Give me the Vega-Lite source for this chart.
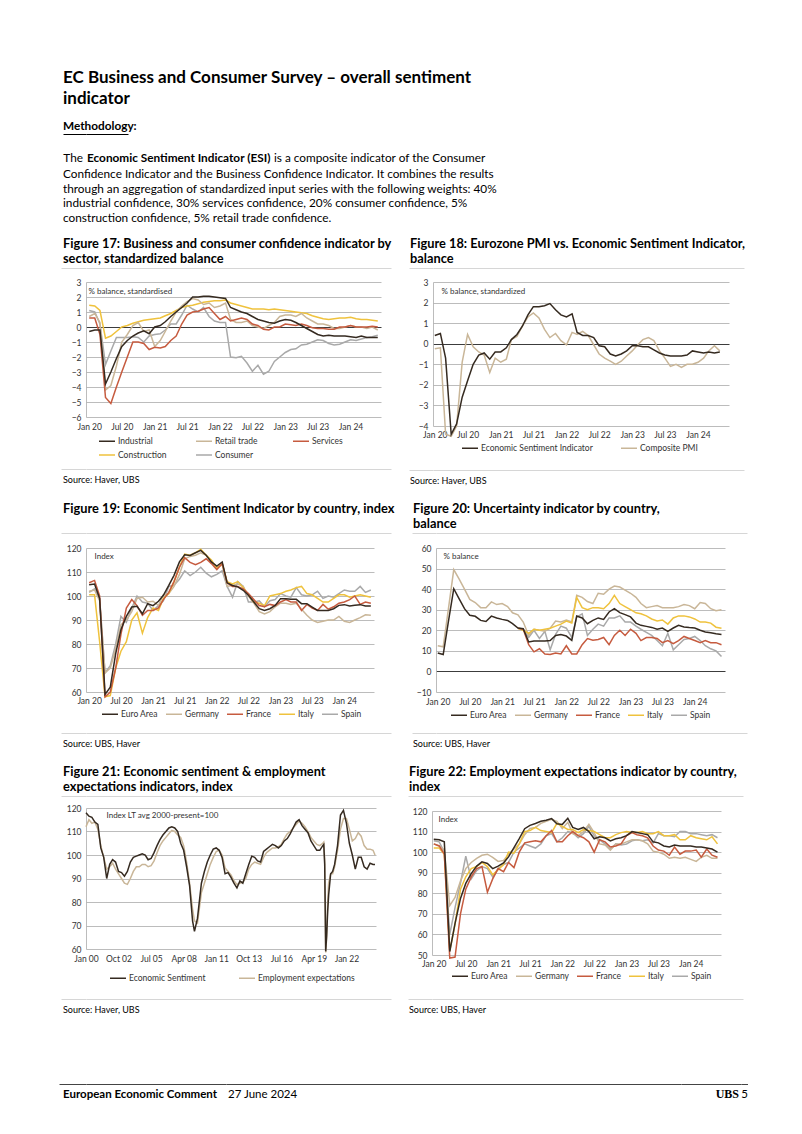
{
"$schema": "https://vega.github.io/schema/vega-lite/v6.json",
"padding": {"left": 58, "top": 69, "right": 0, "bottom": 0},
"background": "white",
"spacing": 0,
"resolve": {"scale": {"color": "independent"}, "legend": {"color": "independent"}},
"config": {
  "font": "Lato",
  "view": {"stroke": null},
  "title": {"font": "Lato", "anchor": "start", "frame": "group", "color": "#000000", "fontWeight": "bold", "fontSize": 12.8, "lineHeight": 15, "offset": 2, "dx": -23},
  "axis": {"labelFont": "Lato", "labelFontSize": 8.5, "labelColor": "#333333", "ticks": false, "domain": false, "grid": false, "titleFont": "Lato", "titleFontSize": 8, "titleFontWeight": "normal", "titleColor": "#333333", "labelFlush": false, "labelOverlap": false},
  "axisY": {"grid": true, "gridColor": {"condition": {"test": "datum.value === 0", "value": "#3c3c3c"}, "value": "#ababab"}, "gridWidth": {"condition": {"test": "datum.value === 0", "value": 1.2}, "value": 0.8}, "domain": true, "domainColor": "#ababab", "domainWidth": 0.8, "labelPadding": 5, "titleAngle": 0, "titleAlign": "left", "titleBaseline": "middle"},
  "axisX": {"labelPadding": 4},
  "legend": {"direction": "horizontal", "symbolType": "stroke", "symbolSize": 256, "symbolStrokeWidth": 2, "labelFont": "Lato", "labelFontSize": 8.5, "labelColor": "#333333", "labelOffset": 2, "rowPadding": -2},
  "line": {"strokeWidth": 1.5, "clip": true}
},
"vconcat": [
  {"width": 445, "height": 12, "data": {"values": []}, "mark": "point",
   "title": {"text": ["EC Business and Consumer Survey \u2013 overall sentiment", "indicator"], "fontSize": 17, "lineHeight": 21, "offset": 0}},
  {"width": 42, "height": 1, "data": {"values": []}, "mark": "point",
   "encoding": {"y": {"datum": 1, "type": "quantitative", "scale": {"domain": [0, 1]}, "axis": {"values": [1], "title": null, "labels": false, "domain": false, "ticks": true, "tickSize": 23, "tickColor": "#000000", "tickWidth": 1, "grid": true, "gridColor": "#000000", "gridWidth": 1, "minExtent": 23, "maxExtent": 23}}},
   "title": {"text": "Methodology:", "fontSize": 11.8, "offset": 1}},
  {"width": 10, "height": 18, "data": {"values": []}, "mark": "point"},
  {"spacing": 0, "hconcat": [
    {"width": 1, "height": 3, "data": {"values": []}, "mark": "point",
     "title": {"text": "The", "anchor": "end", "fontWeight": "normal", "fontSize": 11.8, "offset": 0, "dx": -4}},
    {"width": 1, "height": 3, "data": {"values": []}, "mark": "point",
     "title": {"text": "Economic Sentiment Indicator (ESI)", "fontSize": 11.8, "offset": 0, "dx": 0}},
    {"width": 1, "height": 3, "data": {"values": []}, "mark": "point",
     "title": {"text": "is a composite indicator of the Consumer", "fontWeight": "normal", "fontSize": 11.8, "offset": 0, "dx": 3}}
  ]},
  {"width": 445, "height": 11.5, "data": {"values": []}, "mark": "point",
   "title": {"text": ["Confidence Indicator and the Business Confidence Indicator. It combines the results", "through an aggregation of standardized input series with the following weights: 40%", "industrial confidence, 30% services confidence, 20% consumer confidence, 5%", "construction confidence, 5% retail trade confidence."], "fontWeight": "normal", "fontSize": 11.8, "lineHeight": 14.75, "offset": 0}},
  {"spacing": 16, "resolve": {"scale": {"color": "independent"}, "legend": {"color": "independent"}}, "vconcat": [
    {"spacing": 16, "resolve": {"scale": {"color": "independent"}, "legend": {"color": "independent"}}, "hconcat": [
      {"title": {"text": ["Figure 17: Business and consumer confidence indicator by", "sector, standardized balance"]}, "spacing": 9, "vconcat": [
        {"width": 305, "height": 1, "data": {"values": []}, "mark": "point",
         "encoding": {"y": {"datum": 1, "type": "quantitative", "scale": {"domain": [0, 1]}, "axis": {"values": [1], "title": null, "labels": false, "domain": false, "ticks": true, "tickSize": 25, "tickColor": "#d6d6d6", "tickWidth": 1, "grid": true, "gridColor": "#d6d6d6", "gridWidth": 1, "minExtent": 25, "maxExtent": 25}}}},
        {"spacing": 37, "vconcat": [
          {"width": 295, "height": 135,
           "data": {"values": [
{"d":"2020-01","Industrial":-0.3,"Retail trade":0.7,"Services":0.6,"Construction":1.45,"Consumer":1.1},
{"d":"2020-02","Industrial":-0.2,"Retail trade":0.9,"Services":0.6,"Construction":1.4,"Consumer":1.0},
{"d":"2020-03","Industrial":-0.2,"Retail trade":0.3,"Services":-0.5,"Construction":1.1,"Consumer":0.2},
{"d":"2020-04","Industrial":-3.8,"Retail trade":-4.2,"Services":-4.7,"Construction":-0.75,"Consumer":-2.5},
{"d":"2020-05","Industrial":-3.0,"Retail trade":-3.9,"Services":-5.1,"Construction":-0.6,"Consumer":-1.6},
{"d":"2020-06","Industrial":-2.1,"Retail trade":-2.6,"Services":-4.0,"Construction":-0.3,"Consumer":-0.7},
{"d":"2020-07","Industrial":-1.3,"Retail trade":-1.0,"Services":-3.0,"Construction":0.0,"Consumer":-0.7},
{"d":"2020-08","Industrial":-0.9,"Retail trade":-0.5,"Services":-2.0,"Construction":0.1,"Consumer":-0.7},
{"d":"2020-09","Industrial":-0.6,"Retail trade":0.1,"Services":-1.0,"Construction":0.25,"Consumer":-0.65},
{"d":"2020-10","Industrial":-0.4,"Retail trade":0.3,"Services":-1.0,"Construction":0.35,"Consumer":-0.7},
{"d":"2020-11","Industrial":-0.25,"Retail trade":-0.3,"Services":-1.1,"Construction":0.45,"Consumer":-1.0},
{"d":"2020-12","Industrial":-0.45,"Retail trade":-0.2,"Services":-1.5,"Construction":0.5,"Consumer":-0.6},
{"d":"2021-01","Industrial":0.0,"Retail trade":-1.3,"Services":-1.35,"Construction":0.55,"Consumer":-0.5},
{"d":"2021-02","Industrial":0.1,"Retail trade":-0.9,"Services":-1.4,"Construction":0.6,"Consumer":-0.45},
{"d":"2021-03","Industrial":0.35,"Retail trade":-0.3,"Services":-1.3,"Construction":0.75,"Consumer":-0.2},
{"d":"2021-04","Industrial":0.7,"Retail trade":0.4,"Services":-0.9,"Construction":0.9,"Consumer":0.2},
{"d":"2021-05","Industrial":1.0,"Retail trade":1.0,"Services":-0.6,"Construction":1.1,"Consumer":0.2},
{"d":"2021-06","Industrial":1.3,"Retail trade":1.4,"Services":0.2,"Construction":1.3,"Consumer":0.8},
{"d":"2021-07","Industrial":1.6,"Retail trade":1.7,"Services":0.8,"Construction":1.4,"Consumer":1.45},
{"d":"2021-08","Industrial":2.0,"Retail trade":1.9,"Services":1.0,"Construction":1.45,"Consumer":1.2},
{"d":"2021-09","Industrial":2.0,"Retail trade":1.8,"Services":1.05,"Construction":1.55,"Consumer":1.0},
{"d":"2021-10","Industrial":2.05,"Retail trade":1.5,"Services":1.2,"Construction":1.65,"Consumer":1.3},
{"d":"2021-11","Industrial":2.05,"Retail trade":1.6,"Services":1.3,"Construction":1.7,"Consumer":0.7},
{"d":"2021-12","Industrial":2.0,"Retail trade":1.3,"Services":0.9,"Construction":1.75,"Consumer":0.4},
{"d":"2022-01","Industrial":1.95,"Retail trade":1.4,"Services":0.5,"Construction":1.75,"Consumer":0.3},
{"d":"2022-02","Industrial":1.9,"Retail trade":1.6,"Services":0.7,"Construction":1.8,"Consumer":0.3},
{"d":"2022-03","Industrial":1.3,"Retail trade":0.5,"Services":0.4,"Construction":1.6,"Consumer":-2.0},
{"d":"2022-04","Industrial":1.15,"Retail trade":0.3,"Services":0.5,"Construction":1.5,"Consumer":-2.05},
{"d":"2022-05","Industrial":1.0,"Retail trade":0.3,"Services":0.6,"Construction":1.4,"Consumer":-1.95},
{"d":"2022-06","Industrial":0.9,"Retail trade":0.4,"Services":0.5,"Construction":1.3,"Consumer":-2.4},
{"d":"2022-07","Industrial":0.7,"Retail trade":0.1,"Services":0.2,"Construction":1.2,"Consumer":-2.95},
{"d":"2022-08","Industrial":0.5,"Retail trade":0.0,"Services":0.1,"Construction":1.2,"Consumer":-2.55},
{"d":"2022-09","Industrial":0.4,"Retail trade":-0.1,"Services":-0.15,"Construction":1.2,"Consumer":-3.15},
{"d":"2022-10","Industrial":0.3,"Retail trade":0.1,"Services":-0.2,"Construction":1.15,"Consumer":-2.95},
{"d":"2022-11","Industrial":0.25,"Retail trade":0.3,"Services":0.0,"Construction":1.2,"Consumer":-2.3},
{"d":"2022-12","Industrial":0.4,"Retail trade":0.7,"Services":0.0,"Construction":1.15,"Consumer":-2.0},
{"d":"2023-01","Industrial":0.5,"Retail trade":0.8,"Services":0.2,"Construction":1.1,"Consumer":-1.7},
{"d":"2023-02","Industrial":0.45,"Retail trade":0.8,"Services":0.15,"Construction":1.05,"Consumer":-1.5},
{"d":"2023-03","Industrial":0.3,"Retail trade":0.7,"Services":0.1,"Construction":1.0,"Consumer":-1.45},
{"d":"2023-04","Industrial":0.1,"Retail trade":0.9,"Services":0.2,"Construction":0.95,"Consumer":-1.2},
{"d":"2023-05","Industrial":-0.1,"Retail trade":0.6,"Services":0.1,"Construction":0.9,"Consumer":-1.15},
{"d":"2023-06","Industrial":-0.3,"Retail trade":0.4,"Services":-0.05,"Construction":0.75,"Consumer":-1.0},
{"d":"2023-07","Industrial":-0.5,"Retail trade":0.2,"Services":-0.1,"Construction":0.65,"Consumer":-0.85},
{"d":"2023-08","Industrial":-0.6,"Retail trade":0.2,"Services":-0.1,"Construction":0.55,"Consumer":-0.9},
{"d":"2023-09","Industrial":-0.55,"Retail trade":0.1,"Services":-0.15,"Construction":0.5,"Consumer":-1.1},
{"d":"2023-10","Industrial":-0.6,"Retail trade":-0.1,"Services":-0.15,"Construction":0.55,"Consumer":-1.2},
{"d":"2023-11","Industrial":-0.6,"Retail trade":-0.1,"Services":0.0,"Construction":0.6,"Consumer":-1.15},
{"d":"2023-12","Industrial":-0.6,"Retail trade":0.0,"Services":0.0,"Construction":0.6,"Consumer":-1.0},
{"d":"2024-01","Industrial":-0.65,"Retail trade":0.1,"Services":0.1,"Construction":0.65,"Consumer":-0.85},
{"d":"2024-02","Industrial":-0.7,"Retail trade":0.0,"Services":0.0,"Construction":0.55,"Consumer":-0.9},
{"d":"2024-03","Industrial":-0.6,"Retail trade":0.0,"Services":0.0,"Construction":0.5,"Consumer":-0.8},
{"d":"2024-04","Industrial":-0.7,"Retail trade":-0.1,"Services":0.0,"Construction":0.5,"Consumer":-0.7},
{"d":"2024-05","Industrial":-0.7,"Retail trade":0.0,"Services":0.05,"Construction":0.45,"Consumer":-0.65},
{"d":"2024-06","Industrial":-0.7,"Retail trade":-0.2,"Services":0.0,"Construction":0.4,"Consumer":-0.55}
           ]},
           "transform": [{"fold": ["Consumer", "Construction", "Retail trade", "Services", "Industrial"], "as": ["series", "value"]}],
           "mark": {"type": "line"},
           "encoding": {
             "x": {"field": "d", "type": "temporal", "title": null,
                   "scale": {"type": "utc", "domain": [{"year":2019,"month":12,"date":14,"utc":true},{"year":2024,"month":6,"date":19,"utc":true}]},
                   "axis": {"format": "%b %y", "labelPadding": 5, "values": [{"year":2020,"month":1,"date":1,"utc":true},{"year":2020,"month":7,"date":1,"utc":true},{"year":2021,"month":1,"date":1,"utc":true},{"year":2021,"month":7,"date":1,"utc":true},{"year":2022,"month":1,"date":1,"utc":true},{"year":2022,"month":7,"date":1,"utc":true},{"year":2023,"month":1,"date":1,"utc":true},{"year":2023,"month":7,"date":1,"utc":true},{"year":2024,"month":1,"date":1,"utc":true}]}},
             "y": {"field": "value", "type": "quantitative", "title": "% balance, standardised",
                   "scale": {"domain": [-6, 3], "nice": false, "zero": false},
                   "axis": {"values": [-6,-5,-4,-3,-2,-1,0,1,2,3], "minExtent": 25, "maxExtent": 25, "titleX": 2, "titleY": 9}},
             "color": {"field": "series", "type": "nominal",
                   "scale": {"domain": ["Industrial", "Retail trade", "Services", "Construction", "Consumer"], "range": ["#352a20", "#c9b698", "#c65b3f", "#efc23d", "#a9a9a9"]},
                   "legend": {"title": null, "orient": "none", "legendX": 12, "legendY": 164, "columns": 3, "gridAlign": "all", "columnPadding": 26}}
           }},
          {"width": 305, "height": 1, "data": {"values": []}, "mark": "point",
           "encoding": {"y": {"datum": 1, "type": "quantitative", "scale": {"domain": [0, 1]}, "axis": {"values": [1], "title": null, "labels": false, "domain": false, "ticks": true, "tickSize": 25, "tickColor": "#d6d6d6", "tickWidth": 1, "grid": true, "gridColor": "#d6d6d6", "gridWidth": 1, "minExtent": 25, "maxExtent": 25}}},
           "title": {"text": "Source: Haver, UBS", "orient": "bottom", "fontWeight": "normal", "fontSize": 9, "offset": 6}}
        ]}
      ]},
      {"title": {"text": ["Figure 18: Eurozone PMI vs. Economic Sentiment Indicator,", "balance"]}, "spacing": 9, "vconcat": [
        {"width": 311, "height": 1, "data": {"values": []}, "mark": "point",
         "encoding": {"y": {"datum": 1, "type": "quantitative", "scale": {"domain": [0, 1]}, "axis": {"values": [1], "title": null, "labels": false, "domain": false, "ticks": true, "tickSize": 24, "tickColor": "#d6d6d6", "tickWidth": 1, "grid": true, "gridColor": "#d6d6d6", "gridWidth": 1, "minExtent": 24, "maxExtent": 24}}}},
        {"spacing": 29, "vconcat": [
          {"width": 296, "height": 144,
           "data": {"values": [
{"d":"2020-01","Economic Sentiment Indicator":0.4,"Composite PMI":-0.25},
{"d":"2020-02","Economic Sentiment Indicator":0.5,"Composite PMI":-0.2},
{"d":"2020-03","Economic Sentiment Indicator":-0.7,"Composite PMI":-4.4},
{"d":"2020-04","Economic Sentiment Indicator":-4.4,"Composite PMI":-4.5},
{"d":"2020-05","Economic Sentiment Indicator":-3.9,"Composite PMI":-4.0},
{"d":"2020-06","Economic Sentiment Indicator":-2.6,"Composite PMI":-0.9},
{"d":"2020-07","Economic Sentiment Indicator":-1.8,"Composite PMI":0.45},
{"d":"2020-08","Economic Sentiment Indicator":-1.0,"Composite PMI":-0.15},
{"d":"2020-09","Economic Sentiment Indicator":-0.55,"Composite PMI":-0.4},
{"d":"2020-10","Economic Sentiment Indicator":-0.45,"Composite PMI":-0.55},
{"d":"2020-11","Economic Sentiment Indicator":-0.75,"Composite PMI":-1.4},
{"d":"2020-12","Economic Sentiment Indicator":-0.4,"Composite PMI":-0.7},
{"d":"2021-01","Economic Sentiment Indicator":-0.4,"Composite PMI":-0.9},
{"d":"2021-02","Economic Sentiment Indicator":-0.2,"Composite PMI":-0.75},
{"d":"2021-03","Economic Sentiment Indicator":0.2,"Composite PMI":0.2},
{"d":"2021-04","Economic Sentiment Indicator":0.45,"Composite PMI":0.35},
{"d":"2021-05","Economic Sentiment Indicator":0.85,"Composite PMI":0.85},
{"d":"2021-06","Economic Sentiment Indicator":1.4,"Composite PMI":1.3},
{"d":"2021-07","Economic Sentiment Indicator":1.8,"Composite PMI":1.5},
{"d":"2021-08","Economic Sentiment Indicator":1.8,"Composite PMI":1.25},
{"d":"2021-09","Economic Sentiment Indicator":1.85,"Composite PMI":0.7},
{"d":"2021-10","Economic Sentiment Indicator":1.95,"Composite PMI":0.3},
{"d":"2021-11","Economic Sentiment Indicator":1.65,"Composite PMI":0.5},
{"d":"2021-12","Economic Sentiment Indicator":1.4,"Composite PMI":0.15},
{"d":"2022-01","Economic Sentiment Indicator":1.3,"Composite PMI":-0.05},
{"d":"2022-02","Economic Sentiment Indicator":1.45,"Composite PMI":0.55},
{"d":"2022-03","Economic Sentiment Indicator":0.55,"Composite PMI":0.45},
{"d":"2022-04","Economic Sentiment Indicator":0.4,"Composite PMI":0.6},
{"d":"2022-05","Economic Sentiment Indicator":0.4,"Composite PMI":0.4},
{"d":"2022-06","Economic Sentiment Indicator":0.3,"Composite PMI":-0.05},
{"d":"2022-07","Economic Sentiment Indicator":-0.1,"Composite PMI":-0.5},
{"d":"2022-08","Economic Sentiment Indicator":-0.15,"Composite PMI":-0.7},
{"d":"2022-09","Economic Sentiment Indicator":-0.5,"Composite PMI":-0.85},
{"d":"2022-10","Economic Sentiment Indicator":-0.6,"Composite PMI":-1.0},
{"d":"2022-11","Economic Sentiment Indicator":-0.5,"Composite PMI":-0.85},
{"d":"2022-12","Economic Sentiment Indicator":-0.35,"Composite PMI":-0.6},
{"d":"2023-01","Economic Sentiment Indicator":-0.1,"Composite PMI":-0.35},
{"d":"2023-02","Economic Sentiment Indicator":-0.1,"Composite PMI":-0.05},
{"d":"2023-03","Economic Sentiment Indicator":-0.15,"Composite PMI":0.2},
{"d":"2023-04","Economic Sentiment Indicator":-0.15,"Composite PMI":0.3},
{"d":"2023-05","Economic Sentiment Indicator":-0.3,"Composite PMI":0.15},
{"d":"2023-06","Economic Sentiment Indicator":-0.45,"Composite PMI":-0.35},
{"d":"2023-07","Economic Sentiment Indicator":-0.55,"Composite PMI":-0.7},
{"d":"2023-08","Economic Sentiment Indicator":-0.6,"Composite PMI":-1.1},
{"d":"2023-09","Economic Sentiment Indicator":-0.6,"Composite PMI":-1.0},
{"d":"2023-10","Economic Sentiment Indicator":-0.6,"Composite PMI":-1.15},
{"d":"2023-11","Economic Sentiment Indicator":-0.55,"Composite PMI":-1.0},
{"d":"2023-12","Economic Sentiment Indicator":-0.35,"Composite PMI":-1.0},
{"d":"2024-01","Economic Sentiment Indicator":-0.4,"Composite PMI":-0.9},
{"d":"2024-02","Economic Sentiment Indicator":-0.45,"Composite PMI":-0.7},
{"d":"2024-03","Economic Sentiment Indicator":-0.4,"Composite PMI":-0.35},
{"d":"2024-04","Economic Sentiment Indicator":-0.45,"Composite PMI":-0.1},
{"d":"2024-05","Economic Sentiment Indicator":-0.4,"Composite PMI":-0.35}
           ]},
           "transform": [{"fold": ["Composite PMI", "Economic Sentiment Indicator"], "as": ["series", "value"]}],
           "mark": {"type": "line"},
           "encoding": {
             "x": {"field": "d", "type": "temporal", "title": null,
                   "scale": {"type": "utc", "domain": [{"year":2019,"month":12,"date":22,"utc":true},{"year":2024,"month":6,"date":21,"utc":true}]},
                   "axis": {"format": "%b %y", "labelPadding": 4, "values": [{"year":2020,"month":1,"date":1,"utc":true},{"year":2020,"month":7,"date":1,"utc":true},{"year":2021,"month":1,"date":1,"utc":true},{"year":2021,"month":7,"date":1,"utc":true},{"year":2022,"month":1,"date":1,"utc":true},{"year":2022,"month":7,"date":1,"utc":true},{"year":2023,"month":1,"date":1,"utc":true},{"year":2023,"month":7,"date":1,"utc":true},{"year":2024,"month":1,"date":1,"utc":true}]}},
             "y": {"field": "value", "type": "quantitative", "title": "% balance, standardized",
                   "scale": {"domain": [-4, 3], "nice": false, "zero": false},
                   "axis": {"values": [-4,-3,-2,-1,0,1,2,3], "minExtent": 24, "maxExtent": 24, "titleX": 8, "titleY": 9}},
             "color": {"field": "series", "type": "nominal",
                   "scale": {"domain": ["Economic Sentiment Indicator", "Composite PMI"], "range": ["#352a20", "#c9b698"]},
                   "legend": {"title": null, "orient": "none", "legendX": 28, "legendY": 171, "columns": 2, "columnPadding": 25}}
           }},
          {"width": 311, "height": 1, "data": {"values": []}, "mark": "point",
           "encoding": {"y": {"datum": 1, "type": "quantitative", "scale": {"domain": [0, 1]}, "axis": {"values": [1], "title": null, "labels": false, "domain": false, "ticks": true, "tickSize": 24, "tickColor": "#d6d6d6", "tickWidth": 1, "grid": true, "gridColor": "#d6d6d6", "gridWidth": 1, "minExtent": 24, "maxExtent": 24}}},
           "title": {"text": "Source: Haver, UBS", "orient": "bottom", "fontWeight": "normal", "fontSize": 9, "offset": 6}}
        ]}
      ]}
    ]},
    {"spacing": 16, "resolve": {"scale": {"color": "independent"}, "legend": {"color": "independent"}}, "hconcat": [
      {"title": {"text": ["Figure 19: Economic Sentiment Indicator by country, index", " "]}, "spacing": 10, "vconcat": [
        {"width": 305, "height": 1, "data": {"values": []}, "mark": "point",
         "encoding": {"y": {"datum": 1, "type": "quantitative", "scale": {"domain": [0, 1]}, "axis": {"values": [1], "title": null, "labels": false, "domain": false, "ticks": true, "tickSize": 25, "tickColor": "#d6d6d6", "tickWidth": 1, "grid": true, "gridColor": "#d6d6d6", "gridWidth": 1, "minExtent": 25, "maxExtent": 25}}}},
        {"spacing": 27, "vconcat": [
          {"width": 288, "height": 144,
           "data": {"values": [
{"d":"2020-01","Euro Area":104.7,"Germany":102,"France":105.5,"Italy":100.5,"Spain":101.5},
{"d":"2020-02","Euro Area":105,"Germany":102.5,"France":106.5,"Italy":100.5,"Spain":103},
{"d":"2020-03","Euro Area":99,"Germany":98,"France":100,"Italy":81,"Spain":99},
{"d":"2020-04","Euro Area":59,"Germany":68,"France":58,"Italy":58,"Spain":68},
{"d":"2020-05","Euro Area":62,"Germany":70,"France":60,"Italy":58.5,"Spain":71},
{"d":"2020-06","Euro Area":76,"Germany":78,"France":70,"Italy":70,"Spain":80},
{"d":"2020-07","Euro Area":86,"Germany":88,"France":84,"Italy":77,"Spain":91.5},
{"d":"2020-08","Euro Area":91.5,"Germany":90,"France":95,"Italy":81,"Spain":89},
{"d":"2020-09","Euro Area":95.4,"Germany":93.5,"France":98.5,"Italy":90,"Spain":95},
{"d":"2020-10","Euro Area":95.7,"Germany":99,"France":96,"Italy":93,"Spain":100},
{"d":"2020-11","Euro Area":92.6,"Germany":99.5,"France":92,"Italy":84.5,"Spain":97.5},
{"d":"2020-12","Euro Area":96.8,"Germany":97.5,"France":94,"Italy":91,"Spain":97},
{"d":"2021-01","Euro Area":96,"Germany":97.8,"France":94,"Italy":95,"Spain":94},
{"d":"2021-02","Euro Area":97.8,"Germany":96,"France":95,"Italy":94,"Spain":96},
{"d":"2021-03","Euro Area":100.3,"Germany":100.5,"France":98.5,"Italy":99,"Spain":98},
{"d":"2021-04","Euro Area":104.4,"Germany":101,"France":101.5,"Italy":101,"Spain":104},
{"d":"2021-05","Euro Area":108.6,"Germany":104,"France":106,"Italy":106,"Spain":104.5},
{"d":"2021-06","Euro Area":114.2,"Germany":109,"France":112,"Italy":112,"Spain":107},
{"d":"2021-07","Euro Area":117.2,"Germany":115.5,"France":116,"Italy":117.5,"Spain":110.5},
{"d":"2021-08","Euro Area":116.9,"Germany":116.5,"France":114,"Italy":117,"Spain":108.5},
{"d":"2021-09","Euro Area":118,"Germany":117,"France":113,"Italy":118,"Spain":110},
{"d":"2021-10","Euro Area":119,"Germany":118,"France":114,"Italy":119.5,"Spain":112},
{"d":"2021-11","Euro Area":117,"Germany":117,"France":115.5,"Italy":117,"Spain":109.5},
{"d":"2021-12","Euro Area":114.2,"Germany":114,"France":113.5,"Italy":115,"Spain":108},
{"d":"2022-01","Euro Area":112.5,"Germany":112,"France":111,"Italy":111.5,"Spain":109},
{"d":"2022-02","Euro Area":114.2,"Germany":113,"France":113.5,"Italy":113.5,"Spain":110.5},
{"d":"2022-03","Euro Area":105.5,"Germany":104,"France":105.5,"Italy":106,"Spain":104},
{"d":"2022-04","Euro Area":104.4,"Germany":104.5,"France":104,"Italy":105,"Spain":99.5},
{"d":"2022-05","Euro Area":103.8,"Germany":105,"France":104,"Italy":106,"Spain":106},
{"d":"2022-06","Euro Area":102.4,"Germany":104,"France":103,"Italy":103.5,"Spain":104},
{"d":"2022-07","Euro Area":100.3,"Germany":100,"France":101,"Italy":100.5,"Spain":97.5},
{"d":"2022-08","Euro Area":97.5,"Germany":97,"France":98.5,"Italy":97.5,"Spain":97.5},
{"d":"2022-09","Euro Area":94.7,"Germany":93.5,"France":96,"Italy":97,"Spain":98},
{"d":"2022-10","Euro Area":94,"Germany":92.5,"France":95.5,"Italy":96,"Spain":95.5},
{"d":"2022-11","Euro Area":94.7,"Germany":93.5,"France":96.5,"Italy":100,"Spain":98},
{"d":"2022-12","Euro Area":96.1,"Germany":95.5,"France":96,"Italy":100.5,"Spain":98.5},
{"d":"2023-01","Euro Area":98.9,"Germany":97,"France":97.5,"Italy":101,"Spain":101},
{"d":"2023-02","Euro Area":98.9,"Germany":97,"France":98.5,"Italy":102,"Spain":100},
{"d":"2023-03","Euro Area":98.6,"Germany":96.5,"France":97.5,"Italy":102.5,"Spain":99.5},
{"d":"2023-04","Euro Area":98.6,"Germany":97,"France":97.5,"Italy":103.5,"Spain":103.5},
{"d":"2023-05","Euro Area":96.8,"Germany":94.5,"France":94,"Italy":104,"Spain":100.5},
{"d":"2023-06","Euro Area":96.8,"Germany":92,"France":96.5,"Italy":101,"Spain":100},
{"d":"2023-07","Euro Area":95.4,"Germany":90,"France":95,"Italy":100.5,"Spain":100.5},
{"d":"2023-08","Euro Area":94,"Germany":89,"France":94,"Italy":99,"Spain":102},
{"d":"2023-09","Euro Area":94,"Germany":89.5,"France":96.5,"Italy":97.5,"Spain":99},
{"d":"2023-10","Euro Area":94,"Germany":90,"France":94.5,"Italy":97.5,"Spain":100},
{"d":"2023-11","Euro Area":94.7,"Germany":90,"France":95.5,"Italy":99,"Spain":99.5},
{"d":"2023-12","Euro Area":96.1,"Germany":91.5,"France":97,"Italy":100.5,"Spain":101},
{"d":"2024-01","Euro Area":96.4,"Germany":89.5,"France":97.5,"Italy":100.5,"Spain":102.5},
{"d":"2024-02","Euro Area":95.8,"Germany":89,"France":98.5,"Italy":99.5,"Spain":102},
{"d":"2024-03","Euro Area":96.1,"Germany":90,"France":100,"Italy":100,"Spain":102},
{"d":"2024-04","Euro Area":96.4,"Germany":91,"France":96.5,"Italy":100.5,"Spain":104},
{"d":"2024-05","Euro Area":95.8,"Germany":92.2,"France":97.5,"Italy":100,"Spain":101.5},
{"d":"2024-06","Euro Area":95.8,"Germany":92,"France":97,"Italy":99.5,"Spain":102.5}
           ]},
           "transform": [{"fold": ["Spain", "Germany", "Italy", "France", "Euro Area"], "as": ["series", "value"]}],
           "mark": {"type": "line"},
           "encoding": {
             "x": {"field": "d", "type": "temporal", "title": null,
                   "scale": {"type": "utc", "domain": [{"year":2019,"month":12,"date":14,"utc":true},{"year":2024,"month":6,"date":19,"utc":true}]},
                   "axis": {"format": "%b %y", "labelPadding": 4, "values": [{"year":2020,"month":1,"date":1,"utc":true},{"year":2020,"month":7,"date":1,"utc":true},{"year":2021,"month":1,"date":1,"utc":true},{"year":2021,"month":7,"date":1,"utc":true},{"year":2022,"month":1,"date":1,"utc":true},{"year":2022,"month":7,"date":1,"utc":true},{"year":2023,"month":1,"date":1,"utc":true},{"year":2023,"month":7,"date":1,"utc":true},{"year":2024,"month":1,"date":1,"utc":true}]}},
             "y": {"field": "value", "type": "quantitative", "title": "Index",
                   "scale": {"domain": [60, 120], "nice": false, "zero": false},
                   "axis": {"values": [60,70,80,90,100,110,120], "minExtent": 25, "maxExtent": 25, "titleX": 8, "titleY": 8}},
             "color": {"field": "series", "type": "nominal",
                   "scale": {"domain": ["Euro Area", "Germany", "France", "Italy", "Spain"], "range": ["#352a20", "#c9b698", "#c65b3f", "#efc23d", "#a9a9a9"]},
                   "legend": {"title": null, "orient": "none", "legendX": 15, "legendY": 172, "columns": 5, "columnPadding": 5}}
           }},
          {"width": 305, "height": 1, "data": {"values": []}, "mark": "point",
           "encoding": {"y": {"datum": 1, "type": "quantitative", "scale": {"domain": [0, 1]}, "axis": {"values": [1], "title": null, "labels": false, "domain": false, "ticks": true, "tickSize": 25, "tickColor": "#d6d6d6", "tickWidth": 1, "grid": true, "gridColor": "#d6d6d6", "gridWidth": 1, "minExtent": 25, "maxExtent": 25}}},
           "title": {"text": "Source: UBS, Haver", "orient": "bottom", "fontWeight": "normal", "fontSize": 9, "offset": 6}}
        ]}
      ]},
      {"title": {"text": ["Figure 20: Uncertainty indicator by country,", "balance"]}, "spacing": 10, "vconcat": [
        {"width": 311, "height": 1, "data": {"values": []}, "mark": "point",
         "encoding": {"y": {"datum": 1, "type": "quantitative", "scale": {"domain": [0, 1]}, "axis": {"values": [1], "title": null, "labels": false, "domain": false, "ticks": true, "tickSize": 24, "tickColor": "#d6d6d6", "tickWidth": 1, "grid": true, "gridColor": "#d6d6d6", "gridWidth": 1, "minExtent": 24, "maxExtent": 24}}}},
        {"spacing": 26, "vconcat": [
          {"width": 289, "height": 144,
           "data": {"values": [
{"d":"2020-01","Euro Area":9,"Germany":12.5},
{"d":"2020-02","Euro Area":8.2,"Germany":12},
{"d":"2020-03","Euro Area":24,"Germany":30},
{"d":"2020-04","Euro Area":40.2,"Germany":49.5},
{"d":"2020-05","Euro Area":35.4,"Germany":45},
{"d":"2020-06","Euro Area":30.5,"Germany":40},
{"d":"2020-07","Euro Area":27.3,"Germany":35},
{"d":"2020-08","Euro Area":26.8,"Germany":33.5},
{"d":"2020-09","Euro Area":24.8,"Germany":31},
{"d":"2020-10","Euro Area":24.3,"Germany":31},
{"d":"2020-11","Euro Area":26.9,"Germany":33.8},
{"d":"2020-12","Euro Area":26,"Germany":32.5},
{"d":"2021-01","Euro Area":25.3,"Germany":33},
{"d":"2021-02","Euro Area":24.8,"Germany":31.5},
{"d":"2021-03","Euro Area":23.2,"Germany":28.5},
{"d":"2021-04","Euro Area":21.1,"Germany":27.5,"France":21,"Italy":21,"Spain":21},
{"d":"2021-05","Euro Area":20.8,"Germany":24,"France":20.5,"Italy":20,"Spain":20.5},
{"d":"2021-06","Euro Area":14.3,"Germany":17.5,"France":13,"Italy":18.5,"Spain":16.5},
{"d":"2021-07","Euro Area":14.8,"Germany":20.5,"France":9.5,"Italy":20.5,"Spain":20},
{"d":"2021-08","Euro Area":14.8,"Germany":20,"France":11,"Italy":20,"Spain":16},
{"d":"2021-09","Euro Area":14.8,"Germany":19.5,"France":8.5,"Italy":20.5,"Spain":19.5},
{"d":"2021-10","Euro Area":15,"Germany":21,"France":8.2,"Italy":21,"Spain":10.5},
{"d":"2021-11","Euro Area":17.5,"Germany":24.5,"France":9,"Italy":22,"Spain":18},
{"d":"2021-12","Euro Area":17.9,"Germany":24,"France":8.5,"Italy":23,"Spain":22},
{"d":"2022-01","Euro Area":17.2,"Germany":25,"France":12.5,"Italy":24.5,"Spain":21},
{"d":"2022-02","Euro Area":15.1,"Germany":24,"France":8.5,"Italy":23.5,"Spain":16.5},
{"d":"2022-03","Euro Area":26.9,"Germany":37,"France":8.5,"Italy":36,"Spain":26.5},
{"d":"2022-04","Euro Area":26,"Germany":36,"France":13,"Italy":31,"Spain":28},
{"d":"2022-05","Euro Area":23.2,"Germany":34,"France":16,"Italy":30,"Spain":17.5},
{"d":"2022-06","Euro Area":24.8,"Germany":33,"France":15.2,"Italy":31,"Spain":20.5},
{"d":"2022-07","Euro Area":26,"Germany":38,"France":15.5,"Italy":31,"Spain":23},
{"d":"2022-08","Euro Area":25.3,"Germany":37.5,"France":16.5,"Italy":30.5,"Spain":22},
{"d":"2022-09","Euro Area":28.9,"Germany":40,"France":13,"Italy":33,"Spain":26},
{"d":"2022-10","Euro Area":30.5,"Germany":41.5,"France":17.5,"Italy":37,"Spain":26},
{"d":"2022-11","Euro Area":28.6,"Germany":41,"France":20,"Italy":33,"Spain":27},
{"d":"2022-12","Euro Area":27.6,"Germany":39.5,"France":17.5,"Italy":31.5,"Spain":24},
{"d":"2023-01","Euro Area":26.5,"Germany":38,"France":20.5,"Italy":30,"Spain":24},
{"d":"2023-02","Euro Area":23.5,"Germany":36,"France":18.5,"Italy":28.5,"Spain":22},
{"d":"2023-03","Euro Area":22.4,"Germany":33,"France":15,"Italy":28,"Spain":20.5},
{"d":"2023-04","Euro Area":21.9,"Germany":31,"France":16.5,"Italy":27,"Spain":19},
{"d":"2023-05","Euro Area":21.4,"Germany":31.5,"France":16.5,"Italy":25.5,"Spain":17.5},
{"d":"2023-06","Euro Area":20.5,"Germany":32,"France":16,"Italy":24.5,"Spain":15},
{"d":"2023-07","Euro Area":21.1,"Germany":31,"France":14,"Italy":25,"Spain":12.5},
{"d":"2023-08","Euro Area":19.5,"Germany":31,"France":15,"Italy":23,"Spain":18.5},
{"d":"2023-09","Euro Area":21.1,"Germany":31,"France":13.5,"Italy":26,"Spain":10.5},
{"d":"2023-10","Euro Area":22.4,"Germany":31.5,"France":15,"Italy":27,"Spain":13},
{"d":"2023-11","Euro Area":21.6,"Germany":32.5,"France":17,"Italy":27,"Spain":15.5},
{"d":"2023-12","Euro Area":21.3,"Germany":32,"France":16,"Italy":26.5,"Spain":16},
{"d":"2024-01","Euro Area":21.1,"Germany":30.5,"France":15,"Italy":25.5,"Spain":17},
{"d":"2024-02","Euro Area":20,"Germany":33.5,"France":14,"Italy":24,"Spain":15},
{"d":"2024-03","Euro Area":19.2,"Germany":33,"France":15,"Italy":24,"Spain":12.5},
{"d":"2024-04","Euro Area":18.8,"Germany":30.5,"France":14,"Italy":23.5,"Spain":11},
{"d":"2024-05","Euro Area":18.3,"Germany":29.5,"France":14,"Italy":21.5,"Spain":10},
{"d":"2024-06","Euro Area":17.9,"Germany":30,"France":13,"Italy":21,"Spain":7.3}
           ]},
           "transform": [{"fold": ["Spain", "Germany", "Italy", "France", "Euro Area"], "as": ["series", "value"]}],
           "mark": {"type": "line"},
           "encoding": {
             "x": {"field": "d", "type": "temporal", "title": null,
                   "scale": {"type": "utc", "domain": [{"year":2019,"month":12,"date":22,"utc":true},{"year":2024,"month":6,"date":21,"utc":true}]},
                   "axis": {"format": "%b %y", "labelPadding": 5, "values": [{"year":2020,"month":1,"date":1,"utc":true},{"year":2020,"month":7,"date":1,"utc":true},{"year":2021,"month":1,"date":1,"utc":true},{"year":2021,"month":7,"date":1,"utc":true},{"year":2022,"month":1,"date":1,"utc":true},{"year":2022,"month":7,"date":1,"utc":true},{"year":2023,"month":1,"date":1,"utc":true},{"year":2023,"month":7,"date":1,"utc":true},{"year":2024,"month":1,"date":1,"utc":true}]}},
             "y": {"field": "value", "type": "quantitative", "title": "% balance",
                   "scale": {"domain": [-10, 60], "nice": false, "zero": false},
                   "axis": {"values": [-10,0,10,20,30,40,50,60], "minExtent": 24, "maxExtent": 24, "titleX": 7, "titleY": 8}},
             "color": {"field": "series", "type": "nominal",
                   "scale": {"domain": ["Euro Area", "Germany", "France", "Italy", "Spain"], "range": ["#352a20", "#c9b698", "#c65b3f", "#efc23d", "#a9a9a9"]},
                   "legend": {"title": null, "orient": "none", "legendX": 14, "legendY": 173, "columns": 5, "columnPadding": 5}}
           }},
          {"width": 311, "height": 1, "data": {"values": []}, "mark": "point",
           "encoding": {"y": {"datum": 1, "type": "quantitative", "scale": {"domain": [0, 1]}, "axis": {"values": [1], "title": null, "labels": false, "domain": false, "ticks": true, "tickSize": 24, "tickColor": "#d6d6d6", "tickWidth": 1, "grid": true, "gridColor": "#d6d6d6", "gridWidth": 1, "minExtent": 24, "maxExtent": 24}}},
           "title": {"text": "Source: UBS, Haver", "orient": "bottom", "fontWeight": "normal", "fontSize": 9, "offset": 6}}
        ]}
      ]}
    ]},
    {"spacing": 16, "resolve": {"scale": {"color": "independent"}, "legend": {"color": "independent"}}, "hconcat": [
      {"title": {"text": ["Figure 21: Economic sentiment & employment", "expectations indicators, index"]}, "spacing": 7, "vconcat": [
        {"width": 305, "height": 1, "data": {"values": []}, "mark": "point",
         "encoding": {"y": {"datum": 1, "type": "quantitative", "scale": {"domain": [0, 1]}, "axis": {"values": [1], "title": null, "labels": false, "domain": false, "ticks": true, "tickSize": 25, "tickColor": "#d6d6d6", "tickWidth": 1, "grid": true, "gridColor": "#d6d6d6", "gridWidth": 1, "minExtent": 25, "maxExtent": 25}}}},
        {"spacing": 35, "vconcat": [
          {"width": 290, "height": 141,
           "data": {"values": [
{"d":"2000-01","Economic Sentiment":118,"Employment expectations":112},
{"d":"2000-04","Economic Sentiment":116.5,"Employment expectations":115},
{"d":"2000-07","Economic Sentiment":116,"Employment expectations":113.5},
{"d":"2000-10","Economic Sentiment":114,"Employment expectations":114},
{"d":"2001-01","Economic Sentiment":113,"Employment expectations":111},
{"d":"2001-04","Economic Sentiment":103,"Employment expectations":104},
{"d":"2001-07","Economic Sentiment":99,"Employment expectations":99},
{"d":"2001-10","Economic Sentiment":90,"Employment expectations":94},
{"d":"2002-01","Economic Sentiment":96,"Employment expectations":95},
{"d":"2002-04","Economic Sentiment":98,"Employment expectations":96.5},
{"d":"2002-07","Economic Sentiment":97,"Employment expectations":94},
{"d":"2002-10","Economic Sentiment":93,"Employment expectations":92},
{"d":"2003-01","Economic Sentiment":92.5,"Employment expectations":90},
{"d":"2003-04","Economic Sentiment":91,"Employment expectations":88},
{"d":"2003-07","Economic Sentiment":93,"Employment expectations":87.5},
{"d":"2003-10","Economic Sentiment":97,"Employment expectations":90},
{"d":"2004-01","Economic Sentiment":99,"Employment expectations":93},
{"d":"2004-04","Economic Sentiment":99.5,"Employment expectations":95},
{"d":"2004-07","Economic Sentiment":100,"Employment expectations":95},
{"d":"2004-10","Economic Sentiment":100.5,"Employment expectations":96},
{"d":"2005-01","Economic Sentiment":100,"Employment expectations":96},
{"d":"2005-04","Economic Sentiment":98,"Employment expectations":95},
{"d":"2005-07","Economic Sentiment":98.5,"Employment expectations":95.5},
{"d":"2005-10","Economic Sentiment":101,"Employment expectations":97.5},
{"d":"2006-01","Economic Sentiment":104,"Employment expectations":101},
{"d":"2006-04","Economic Sentiment":106.5,"Employment expectations":104},
{"d":"2006-07","Economic Sentiment":108.5,"Employment expectations":106},
{"d":"2006-10","Economic Sentiment":110,"Employment expectations":107.5},
{"d":"2007-01","Economic Sentiment":111.5,"Employment expectations":109},
{"d":"2007-04","Economic Sentiment":112,"Employment expectations":110.5},
{"d":"2007-07","Economic Sentiment":111.5,"Employment expectations":110},
{"d":"2007-10","Economic Sentiment":110,"Employment expectations":108.5},
{"d":"2008-01","Economic Sentiment":105,"Employment expectations":107.5},
{"d":"2008-04","Economic Sentiment":102,"Employment expectations":104},
{"d":"2008-07","Economic Sentiment":95,"Employment expectations":97},
{"d":"2008-10","Economic Sentiment":87,"Employment expectations":88},
{"d":"2009-01","Economic Sentiment":72,"Employment expectations":77},
{"d":"2009-03","Economic Sentiment":67.5,"Employment expectations":72},
{"d":"2009-06","Economic Sentiment":73,"Employment expectations":71},
{"d":"2009-10","Economic Sentiment":88,"Employment expectations":84},
{"d":"2010-01","Economic Sentiment":93,"Employment expectations":88},
{"d":"2010-04","Economic Sentiment":97,"Employment expectations":92},
{"d":"2010-07","Economic Sentiment":100,"Employment expectations":96},
{"d":"2010-10","Economic Sentiment":102.5,"Employment expectations":99},
{"d":"2011-01","Economic Sentiment":103,"Employment expectations":101.5},
{"d":"2011-04","Economic Sentiment":102,"Employment expectations":102},
{"d":"2011-07","Economic Sentiment":99,"Employment expectations":100},
{"d":"2011-10","Economic Sentiment":92,"Employment expectations":94.5},
{"d":"2012-01","Economic Sentiment":92.5,"Employment expectations":93},
{"d":"2012-04","Economic Sentiment":90.5,"Employment expectations":91.5},
{"d":"2012-07","Economic Sentiment":88,"Employment expectations":89},
{"d":"2012-10","Economic Sentiment":86,"Employment expectations":87.5},
{"d":"2013-01","Economic Sentiment":89,"Employment expectations":88},
{"d":"2013-04","Economic Sentiment":88,"Employment expectations":88.5},
{"d":"2013-07","Economic Sentiment":92,"Employment expectations":90},
{"d":"2013-10","Economic Sentiment":96,"Employment expectations":94},
{"d":"2014-01","Economic Sentiment":99.5,"Employment expectations":96},
{"d":"2014-04","Economic Sentiment":99,"Employment expectations":97},
{"d":"2014-07","Economic Sentiment":97.5,"Employment expectations":96.5},
{"d":"2014-10","Economic Sentiment":97,"Employment expectations":96},
{"d":"2015-01","Economic Sentiment":101.5,"Employment expectations":99},
{"d":"2015-04","Economic Sentiment":102.5,"Employment expectations":101},
{"d":"2015-07","Economic Sentiment":103.5,"Employment expectations":102},
{"d":"2015-10","Economic Sentiment":104.5,"Employment expectations":103},
{"d":"2016-01","Economic Sentiment":104,"Employment expectations":103},
{"d":"2016-04","Economic Sentiment":103,"Employment expectations":103.5},
{"d":"2016-07","Economic Sentiment":104,"Employment expectations":104.5},
{"d":"2016-10","Economic Sentiment":106,"Employment expectations":107},
{"d":"2017-01","Economic Sentiment":107,"Employment expectations":109},
{"d":"2017-04","Economic Sentiment":109,"Employment expectations":110},
{"d":"2017-07","Economic Sentiment":111.5,"Employment expectations":111.5},
{"d":"2017-10","Economic Sentiment":114,"Employment expectations":113},
{"d":"2018-01","Economic Sentiment":115,"Employment expectations":114.5},
{"d":"2018-04","Economic Sentiment":112.5,"Employment expectations":113.5},
{"d":"2018-07","Economic Sentiment":111,"Employment expectations":112},
{"d":"2018-10","Economic Sentiment":109.5,"Employment expectations":110},
{"d":"2019-01","Economic Sentiment":106,"Employment expectations":107.5},
{"d":"2019-04","Economic Sentiment":104,"Employment expectations":106},
{"d":"2019-07","Economic Sentiment":102,"Employment expectations":104.5},
{"d":"2019-10","Economic Sentiment":102,"Employment expectations":104},
{"d":"2020-01","Economic Sentiment":104,"Employment expectations":105},
{"d":"2020-02","Economic Sentiment":104.5,"Employment expectations":105.5},
{"d":"2020-03","Economic Sentiment":96,"Employment expectations":98},
{"d":"2020-04","Economic Sentiment":59,"Employment expectations":58.5},
{"d":"2020-05","Economic Sentiment":66,"Employment expectations":65},
{"d":"2020-06","Economic Sentiment":76,"Employment expectations":80},
{"d":"2020-07","Economic Sentiment":83,"Employment expectations":88},
{"d":"2020-09","Economic Sentiment":92,"Employment expectations":92},
{"d":"2020-11","Economic Sentiment":93,"Employment expectations":92},
{"d":"2021-01","Economic Sentiment":96,"Employment expectations":95},
{"d":"2021-04","Economic Sentiment":104,"Employment expectations":102},
{"d":"2021-07","Economic Sentiment":117,"Employment expectations":111},
{"d":"2021-10","Economic Sentiment":119,"Employment expectations":115.5},
{"d":"2022-01","Economic Sentiment":113.5,"Employment expectations":115.5},
{"d":"2022-04","Economic Sentiment":105,"Employment expectations":111},
{"d":"2022-07","Economic Sentiment":100,"Employment expectations":106},
{"d":"2022-10","Economic Sentiment":94,"Employment expectations":107},
{"d":"2023-01","Economic Sentiment":99,"Employment expectations":109.5},
{"d":"2023-04","Economic Sentiment":99,"Employment expectations":108},
{"d":"2023-07","Economic Sentiment":95,"Employment expectations":104},
{"d":"2023-10","Economic Sentiment":94,"Employment expectations":102.5},
{"d":"2024-01","Economic Sentiment":96.5,"Employment expectations":102.5},
{"d":"2024-04","Economic Sentiment":96,"Employment expectations":102},
{"d":"2024-06","Economic Sentiment":96,"Employment expectations":100}
           ]},
           "transform": [{"fold": ["Employment expectations", "Economic Sentiment"], "as": ["series", "value"]}],
           "mark": {"type": "line"},
           "encoding": {
             "x": {"field": "d", "type": "temporal", "title": null,
                   "scale": {"type": "utc", "domain": [{"year":2000,"month":1,"date":1,"utc":true},{"year":2024,"month":7,"date":1,"utc":true}]},
                   "axis": {"format": "%b %y", "labelPadding": 5, "values": [{"year":2000,"month":1,"date":1,"utc":true},{"year":2002,"month":10,"date":1,"utc":true},{"year":2005,"month":7,"date":1,"utc":true},{"year":2008,"month":4,"date":1,"utc":true},{"year":2011,"month":1,"date":1,"utc":true},{"year":2013,"month":10,"date":1,"utc":true},{"year":2016,"month":7,"date":1,"utc":true},{"year":2019,"month":4,"date":1,"utc":true},{"year":2022,"month":1,"date":1,"utc":true}]}},
             "y": {"field": "value", "type": "quantitative", "title": "Index LT avg 2000-present=100",
                   "scale": {"domain": [60, 120], "nice": false, "zero": false},
                   "axis": {"values": [60,70,80,90,100,110,120], "minExtent": 27, "maxExtent": 27, "titleX": 20, "titleY": 7}},
             "color": {"field": "series", "type": "nominal",
                   "scale": {"domain": ["Economic Sentiment", "Employment expectations"], "range": ["#352a20", "#c9b698"]},
                   "legend": {"title": null, "orient": "none", "legendX": 23, "legendY": 173, "columns": 2, "columnPadding": 30}}
           }},
          {"width": 305, "height": 1, "data": {"values": []}, "mark": "point",
           "encoding": {"y": {"datum": 1, "type": "quantitative", "scale": {"domain": [0, 1]}, "axis": {"values": [1], "title": null, "labels": false, "domain": false, "ticks": true, "tickSize": 25, "tickColor": "#d6d6d6", "tickWidth": 1, "grid": true, "gridColor": "#d6d6d6", "gridWidth": 1, "minExtent": 25, "maxExtent": 25}}},
           "title": {"text": "Source: Haver, UBS", "orient": "bottom", "fontWeight": "normal", "fontSize": 9, "offset": 6}}
        ]}
      ]},
      {"title": {"text": ["Figure 22: Employment expectations indicator by country,", "index"]}, "spacing": 10, "vconcat": [
        {"width": 311, "height": 1, "data": {"values": []}, "mark": "point",
         "encoding": {"y": {"datum": 1, "type": "quantitative", "scale": {"domain": [0, 1]}, "axis": {"values": [1], "title": null, "labels": false, "domain": false, "ticks": true, "tickSize": 24, "tickColor": "#d6d6d6", "tickWidth": 1, "grid": true, "gridColor": "#d6d6d6", "gridWidth": 1, "minExtent": 24, "maxExtent": 24}}}},
        {"spacing": 30, "vconcat": [
          {"width": 289, "height": 144,
           "data": {"values": [
{"d":"2020-01","Euro Area":106.3,"Germany":104,"France":104,"Italy":102,"Spain":105.5},
{"d":"2020-02","Euro Area":106,"Germany":103,"France":103,"Italy":102,"Spain":105},
{"d":"2020-03","Euro Area":105,"Germany":101,"France":99,"Italy":99,"Spain":100},
{"d":"2020-04","Euro Area":51.7,"Germany":74,"France":48.5,"Italy":52,"Spain":60},
{"d":"2020-05","Euro Area":65.4,"Germany":78,"France":49,"Italy":65,"Spain":73},
{"d":"2020-06","Euro Area":77.5,"Germany":86,"France":70,"Italy":82,"Spain":85},
{"d":"2020-07","Euro Area":84.8,"Germany":92,"France":82,"Italy":88,"Spain":98},
{"d":"2020-08","Euro Area":89.6,"Germany":95,"France":88,"Italy":92,"Spain":87},
{"d":"2020-09","Euro Area":93.2,"Germany":97,"France":92,"Italy":93,"Spain":91},
{"d":"2020-10","Euro Area":95.3,"Germany":98.5,"France":93,"Italy":95,"Spain":93},
{"d":"2020-11","Euro Area":94.5,"Germany":99,"France":80.5,"Italy":93,"Spain":92},
{"d":"2020-12","Euro Area":92,"Germany":97.5,"France":87,"Italy":89,"Spain":88},
{"d":"2021-01","Euro Area":93.2,"Germany":95.5,"France":92,"Italy":91.5,"Spain":92},
{"d":"2021-02","Euro Area":94.8,"Germany":96,"France":90.5,"Italy":94,"Spain":94},
{"d":"2021-03","Euro Area":97.7,"Germany":99,"France":95,"Italy":100,"Spain":95},
{"d":"2021-04","Euro Area":102.2,"Germany":101.5,"France":92.5,"Italy":99.5,"Spain":100},
{"d":"2021-05","Euro Area":106.6,"Germany":104,"France":100,"Italy":104,"Spain":102},
{"d":"2021-06","Euro Area":111.4,"Germany":108.5,"France":104.5,"Italy":110,"Spain":104},
{"d":"2021-07","Euro Area":113,"Germany":111.5,"France":105,"Italy":110.5,"Spain":103},
{"d":"2021-08","Euro Area":113.9,"Germany":112,"France":105.5,"Italy":112,"Spain":102},
{"d":"2021-09","Euro Area":115,"Germany":114,"France":105,"Italy":110.5,"Spain":104},
{"d":"2021-10","Euro Area":115.5,"Germany":115,"France":108,"Italy":110,"Spain":108},
{"d":"2021-11","Euro Area":116.3,"Germany":116,"France":110.5,"Italy":109.5,"Spain":109},
{"d":"2021-12","Euro Area":113.8,"Germany":115,"France":105,"Italy":114,"Spain":105},
{"d":"2022-01","Euro Area":113.5,"Germany":111.5,"France":105,"Italy":112.5,"Spain":107},
{"d":"2022-02","Euro Area":116.5,"Germany":114.5,"France":108,"Italy":111,"Spain":110},
{"d":"2022-03","Euro Area":112,"Germany":109,"France":110,"Italy":111,"Spain":109.5},
{"d":"2022-04","Euro Area":111,"Germany":108,"France":108,"Italy":109.5,"Spain":107},
{"d":"2022-05","Euro Area":112,"Germany":110,"France":107,"Italy":111,"Spain":109},
{"d":"2022-06","Euro Area":110,"Germany":113.5,"France":105,"Italy":110.5,"Spain":112.5},
{"d":"2022-07","Euro Area":106.5,"Germany":109.5,"France":100,"Italy":110,"Spain":108},
{"d":"2022-08","Euro Area":107.5,"Germany":104,"France":106,"Italy":108.5,"Spain":106},
{"d":"2022-09","Euro Area":107,"Germany":103.5,"France":105,"Italy":107,"Spain":104},
{"d":"2022-10","Euro Area":105.5,"Germany":101,"France":102.5,"Italy":107,"Spain":101.5},
{"d":"2022-11","Euro Area":106.5,"Germany":104,"France":103,"Italy":108.5,"Spain":104},
{"d":"2022-12","Euro Area":107,"Germany":104,"France":104,"Italy":109.5,"Spain":103.5},
{"d":"2023-01","Euro Area":108,"Germany":105,"France":108,"Italy":110,"Spain":104},
{"d":"2023-02","Euro Area":110,"Germany":106,"France":109.5,"Italy":109.5,"Spain":105.5},
{"d":"2023-03","Euro Area":109.5,"Germany":106,"France":108.5,"Italy":109.5,"Spain":106},
{"d":"2023-04","Euro Area":109,"Germany":105.5,"France":108,"Italy":110,"Spain":105.5},
{"d":"2023-05","Euro Area":108.5,"Germany":104,"France":107,"Italy":109,"Spain":106},
{"d":"2023-06","Euro Area":105,"Germany":100.5,"France":103,"Italy":109,"Spain":104.5},
{"d":"2023-07","Euro Area":104.5,"Germany":100,"France":101,"Italy":110,"Spain":109},
{"d":"2023-08","Euro Area":103,"Germany":99,"France":100.5,"Italy":108,"Spain":108},
{"d":"2023-09","Euro Area":102.5,"Germany":97,"France":98.5,"Italy":108,"Spain":108},
{"d":"2023-10","Euro Area":103.5,"Germany":97.5,"France":102.5,"Italy":108.5,"Spain":107.5},
{"d":"2023-11","Euro Area":103,"Germany":97,"France":99,"Italy":106,"Spain":110},
{"d":"2023-12","Euro Area":103,"Germany":97.5,"France":100.5,"Italy":106,"Spain":110},
{"d":"2024-01","Euro Area":103,"Germany":96.5,"France":100.5,"Italy":108,"Spain":109},
{"d":"2024-02","Euro Area":102.5,"Germany":95.5,"France":101,"Italy":107,"Spain":109},
{"d":"2024-03","Euro Area":102.5,"Germany":97.5,"France":97.5,"Italy":106.5,"Spain":108.5},
{"d":"2024-04","Euro Area":102,"Germany":98.5,"France":101.5,"Italy":106,"Spain":108},
{"d":"2024-05","Euro Area":101.5,"Germany":97,"France":98.5,"Italy":107.5,"Spain":108.5},
{"d":"2024-06","Euro Area":100,"Germany":97,"France":97.5,"Italy":104,"Spain":107}
           ]},
           "transform": [{"fold": ["Spain", "Germany", "Italy", "France", "Euro Area"], "as": ["series", "value"]}],
           "mark": {"type": "line"},
           "encoding": {
             "x": {"field": "d", "type": "temporal", "title": null,
                   "scale": {"type": "utc", "domain": [{"year":2019,"month":12,"date":22,"utc":true},{"year":2024,"month":6,"date":21,"utc":true}]},
                   "axis": {"format": "%b %y", "labelPadding": 4, "values": [{"year":2020,"month":1,"date":1,"utc":true},{"year":2020,"month":7,"date":1,"utc":true},{"year":2021,"month":1,"date":1,"utc":true},{"year":2021,"month":7,"date":1,"utc":true},{"year":2022,"month":1,"date":1,"utc":true},{"year":2022,"month":7,"date":1,"utc":true},{"year":2023,"month":1,"date":1,"utc":true},{"year":2023,"month":7,"date":1,"utc":true},{"year":2024,"month":1,"date":1,"utc":true}]}},
             "y": {"field": "value", "type": "quantitative", "title": "Index",
                   "scale": {"domain": [50, 120], "nice": false, "zero": false},
                   "axis": {"values": [50,60,70,80,90,100,110,120], "minExtent": 24, "maxExtent": 24, "titleX": 6, "titleY": 8}},
             "color": {"field": "series", "type": "nominal",
                   "scale": {"domain": ["Euro Area", "Germany", "France", "Italy", "Spain"], "range": ["#352a20", "#c9b698", "#c65b3f", "#efc23d", "#a9a9a9"]},
                   "legend": {"title": null, "orient": "none", "legendX": 19, "legendY": 171, "columns": 5, "columnPadding": 5}}
           }},
          {"width": 311, "height": 1, "data": {"values": []}, "mark": "point",
           "encoding": {"y": {"datum": 1, "type": "quantitative", "scale": {"domain": [0, 1]}, "axis": {"values": [1], "title": null, "labels": false, "domain": false, "ticks": true, "tickSize": 24, "tickColor": "#d6d6d6", "tickWidth": 1, "grid": true, "gridColor": "#d6d6d6", "gridWidth": 1, "minExtent": 24, "maxExtent": 24}}},
           "title": {"text": "Source: UBS, Haver", "orient": "bottom", "fontWeight": "normal", "fontSize": 9, "offset": 6}}
        ]}
      ]}
    ]}
  ]},
  {"width": 10, "height": 68, "data": {"values": []}, "mark": "point"},
  {"spacing": 0, "hconcat": [
    {"width": 140, "height": 1, "data": {"values": []}, "mark": "point",
     "encoding": {"y": {"datum": 1, "type": "quantitative", "scale": {"domain": [0, 1]}, "axis": {"values": [1], "title": null, "labels": false, "domain": false, "ticks": true, "tickSize": 27, "tickColor": "#444444", "tickWidth": 1, "grid": true, "gridColor": "#444444", "gridWidth": 1, "minExtent": 27, "maxExtent": 27}}},
     "title": {"text": "European Economic Comment", "orient": "bottom", "fontSize": 11.5, "offset": 4}},
    {"width": 455, "height": 1, "data": {"values": []}, "mark": "point",
     "encoding": {"y": {"datum": 1, "type": "quantitative", "scale": {"domain": [0, 1]}, "axis": {"values": [1], "title": null, "labels": false, "domain": false, "ticks": false, "grid": true, "gridColor": "#444444", "gridWidth": 1, "minExtent": 0, "maxExtent": 0}}},
     "title": {"text": "27 June 2024", "orient": "bottom", "fontWeight": "normal", "fontSize": 11.5, "offset": 4, "dx": 2}},
    {"width": 60, "height": 1, "data": {"values": []}, "mark": "point",
     "encoding": {"y": {"datum": 1, "type": "quantitative", "scale": {"domain": [0, 1]}, "axis": {"values": [1], "title": null, "labels": false, "domain": false, "ticks": false, "grid": true, "gridColor": "#444444", "gridWidth": 1, "minExtent": 0, "maxExtent": 0}}},
     "title": {"text": "UBS", "orient": "bottom", "anchor": "end", "font": "Liberation Serif", "fontSize": 12, "offset": 4, "dx": -2}},
    {"width": 7, "height": 1, "data": {"values": []}, "mark": "point",
     "encoding": {"y": {"datum": 1, "type": "quantitative", "scale": {"domain": [0, 1]}, "axis": {"values": [1], "title": null, "labels": false, "domain": false, "ticks": false, "grid": true, "gridColor": "#444444", "gridWidth": 1, "minExtent": 0, "maxExtent": 0}}},
     "title": {"text": "5", "orient": "bottom", "anchor": "end", "fontWeight": "normal", "fontSize": 11.5, "offset": 4, "dx": 0}}
  ]}
]
}
